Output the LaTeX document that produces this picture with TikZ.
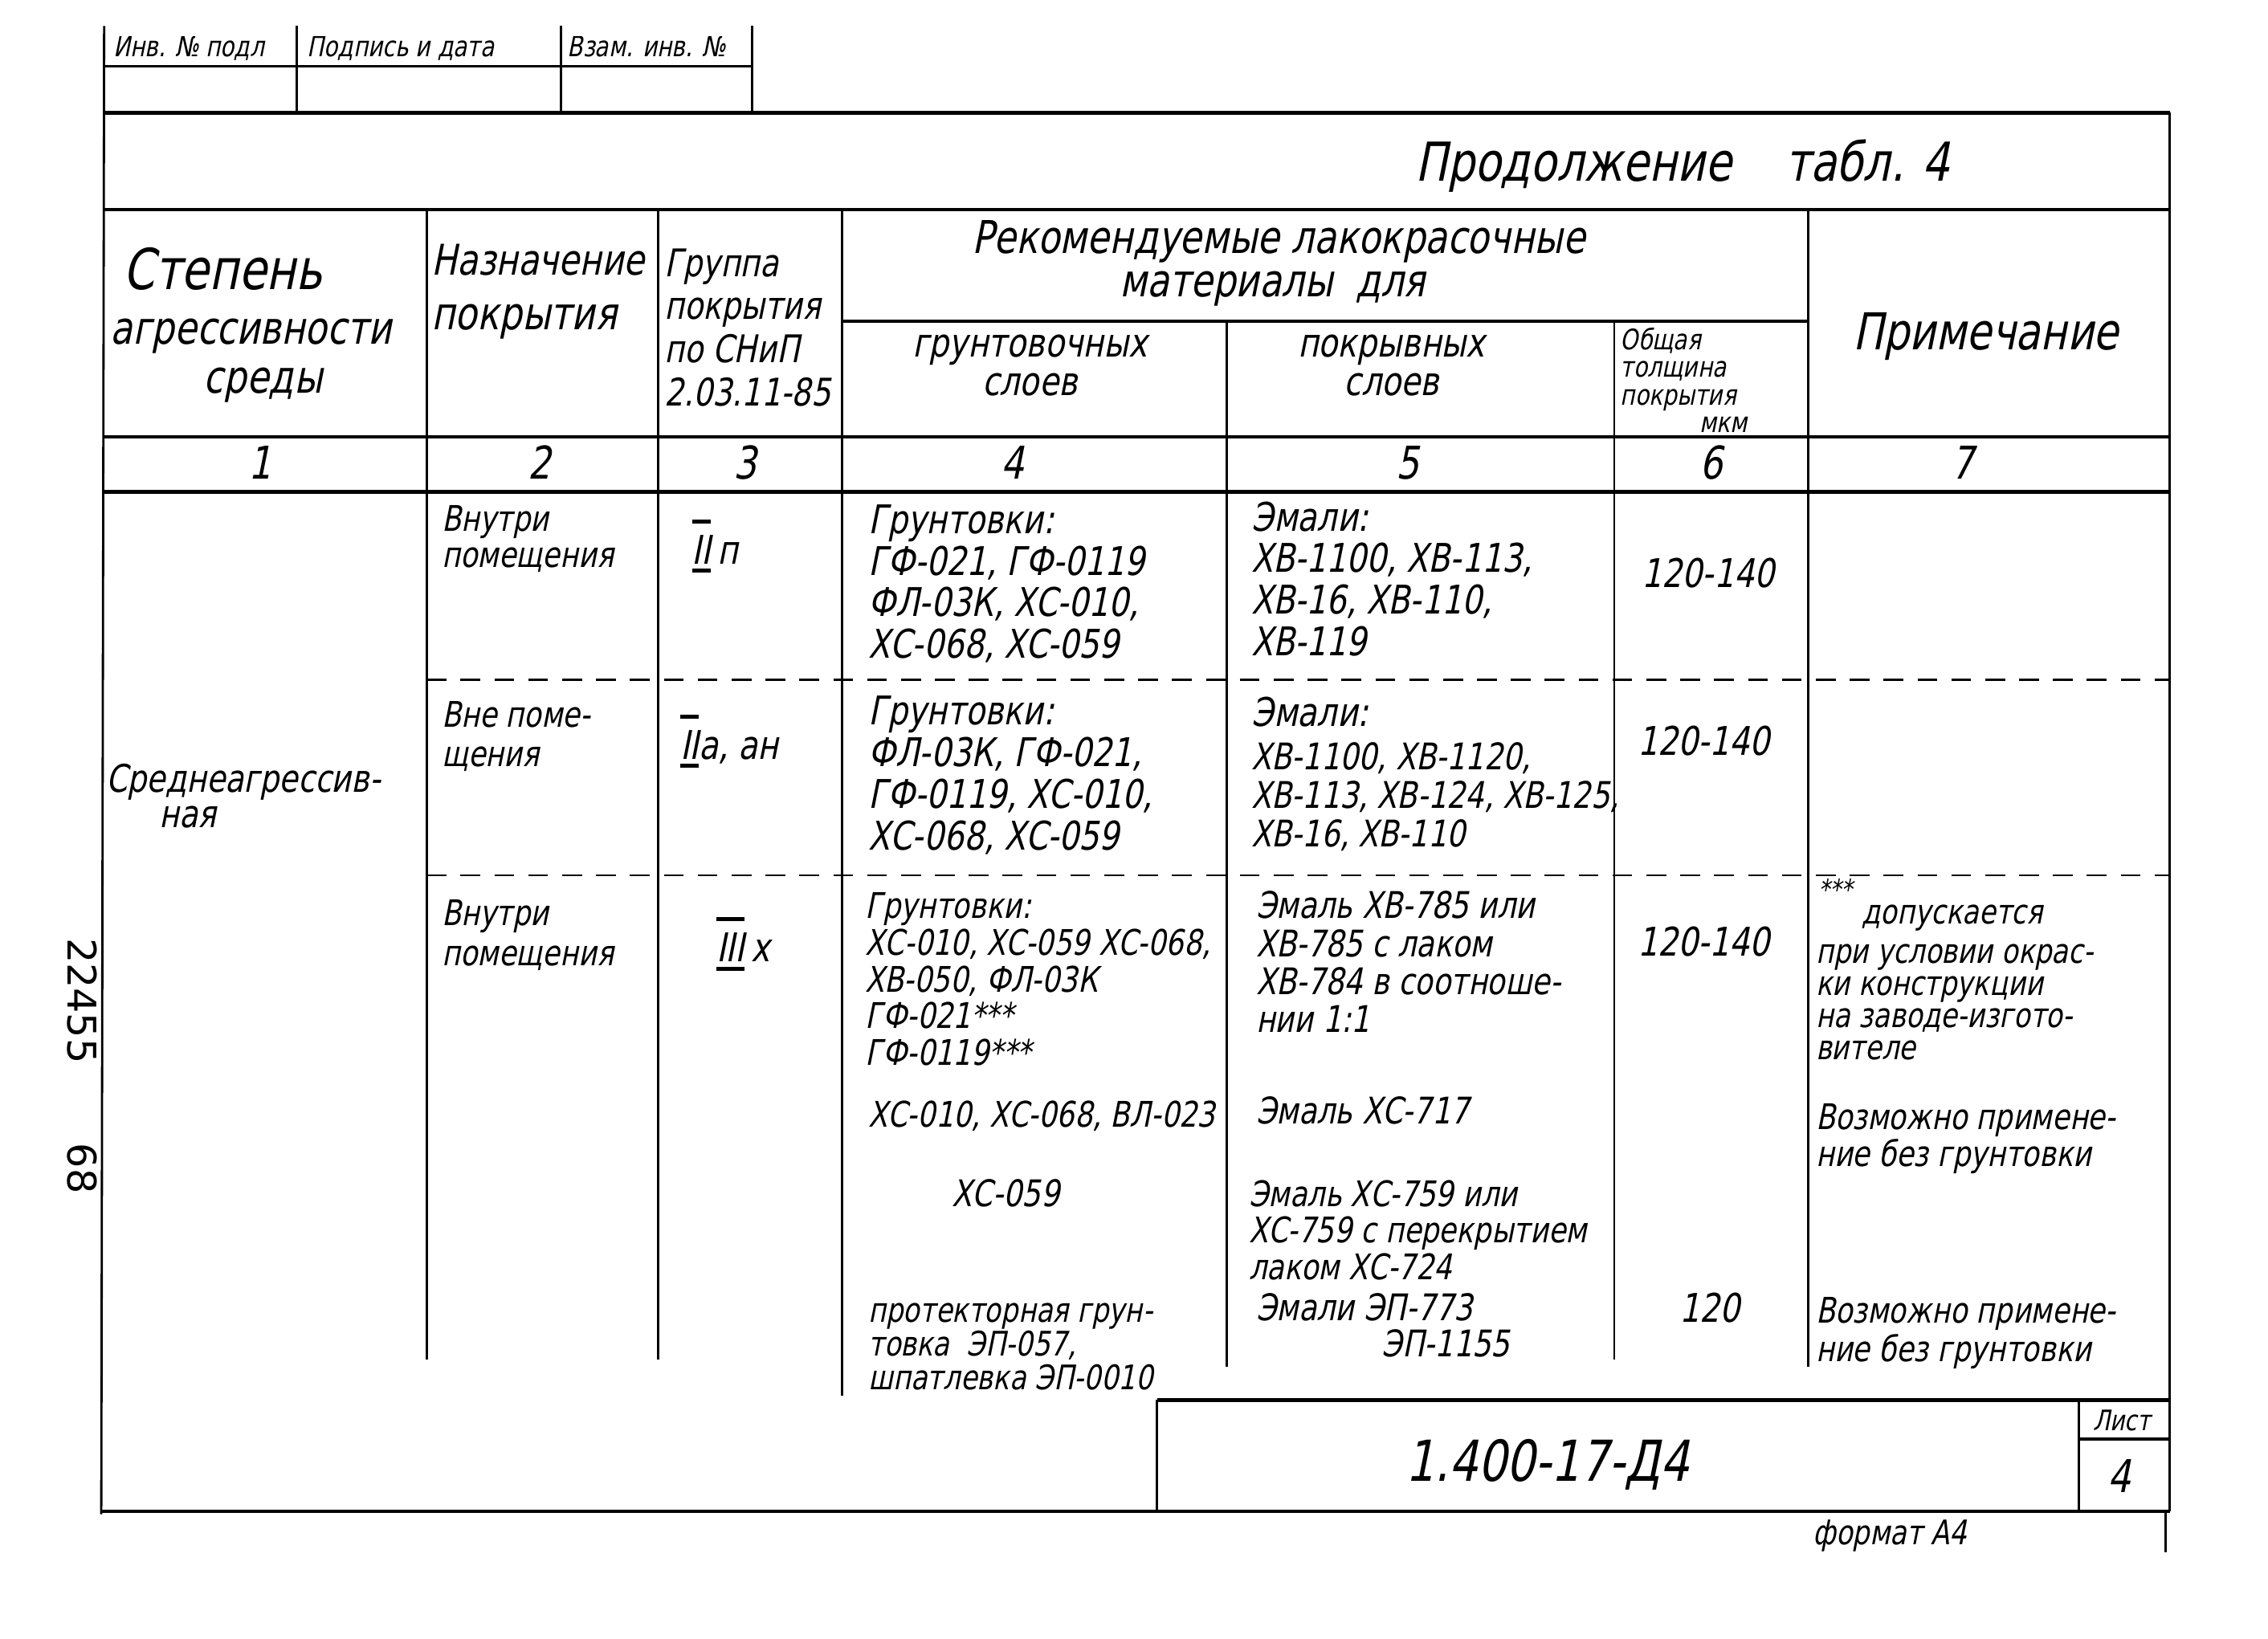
\documentclass[tikz,border=0pt]{standalone}
\usepackage{fontspec}
\setmainfont{DejaVu Sans}[FakeSlant=0.2,FakeStretch=0.8]
\newfontfamily\stampfont{DejaVu Sans}
\newcommand\ml[1]{\begin{tabular}[t]{@{}l@{}}#1\end{tabular}}
\newcommand\mc[1]{\begin{tabular}[t]{@{}c@{}}#1\end{tabular}}
\newcommand\fs[2]{\fontsize{#1}{#2}\selectfont}
\newcommand\romnum[1]{\setbox0=\hbox{#1}\rlap{\raisebox{\dimexpr\ht0+0.3em\relax}{\rule{\wd0}{0.1em}}}\rlap{\raisebox{-0.22em}{\rule{\wd0}{0.1em}}}\box0}
\tikzset{
  ln/.style={line width=0.8pt},
  thk/.style={line width=1.3pt},
  dsh/.style={line width=0.6pt, dash pattern=on 7pt off 5pt},
  tl/.style={inner sep=0pt, anchor=base west},
  tcn/.style={inner sep=0pt, anchor=base},
}
\begin{document}
\begin{tikzpicture}[x=0.01801cm,y=-0.01801cm]
\useasboundingbox (0,0) rectangle (1568,1133);
% ---------- frame and grid ----------
\draw[ln] (72,18) -- (70,1047);
\draw[ln] (205,18) -- (205,78);
\draw[ln] (388,18) -- (388,78);
\draw[ln] (520,18) -- (520,78);
\draw[ln] (72,46) -- (520,46);
\draw[thk] (72,78) -- (1500,78);
\draw[ln] (1500,78) -- (1500,1045);
\draw[ln] (1497,1045) -- (1497,1073);
\draw[thk] (72,145) -- (1500,145);
\draw[ln] (295,145) -- (295,940);
\draw[ln] (455,145) -- (455,940);
\draw[ln] (582,145) -- (582,965);
\draw[ln] (1250,145) -- (1250,945);
\draw[ln] (848,222) -- (848,945);
\draw[ln] (1116,222) -- (1116,940);
\draw[thk] (582,222) -- (1250,222);
\draw[thk] (72,302) -- (1500,302);
\draw[thk] (72,340) -- (1500,340);
\draw[dsh] (295,470) -- (1500,470);
\draw[dsh] (295,605) -- (1500,605);
\draw[thk] (800,968) -- (1500,968);
\draw[ln] (800,968) -- (800,1045);
\draw[ln] (1437,968) -- (1437,1045);
\draw[thk] (1437,995) -- (1500,995);
\draw[thk] (70,1045) -- (1500,1045);
% ---------- top small table ----------
\begin{scope}
\clip (60,25) rectangle (530,46);
\node[tl,font=\fs{10}{10}] (t1) at (78,39) {Инв. № подл};
\node[tl,font=\fs{10}{10}] (t2) at (212,39) {Подпись и дата};
\node[tl,font=\fs{10}{10}] (t3) at (392,39) {Взам. инв. №};
\end{scope}
\node[tl,font=\fs{19}{19}] (cont) at (978,125) {Продолжение\quad табл. 4};
% ---------- header ----------
\node[tl,font=\fs{20}{22}] (h1a) at (85,200) {Степень};
\node[tl,font=\fs{16}{18}] (h1b) at (76,238) {агрессивности};
\node[tcn,font=\fs{16}{18}] (h1c) at (182,272) {среды};
\node[tl,font=\fs{15}{16}] (h2a) at (298,190) {Назначение};
\node[tl,font=\fs{16}{16}] (h2b) at (298,228) {покрытия};
\node[tl,font=\fs{13.5}{15.3}] (h3) at (459,191) {\ml{Группа\\покрытия\\по СНиП\\2.03.11-85}};
\node[tcn,font=\fs{16}{16}] (h45a) at (884,175) {Рекомендуемые лакокрасочные};
\node[tcn,font=\fs{16}{16}] (h45b) at (880,205) {материалы\enspace для};
\node[tcn,font=\fs{14}{13.6}] (h4) at (712,247) {\mc{грунтовочных\\слоев}};
\node[tcn,font=\fs{14}{13.6}] (h5) at (962,247) {\mc{покрывных\\слоев}};
\node[tl,font=\fs{10}{9.7}] (h6) at (1120,242) {\ml{Общая\\толщина\\покрытия\\\hspace*{2.8em}мкм}};
\node[tcn,font=\fs{18}{18}] (h7) at (1373,242) {Примечание};
\node[tcn,font=\fs{16}{16}] (n1) at (180,331) {1};
\node[tcn,font=\fs{16}{16}] (n2) at (373,331) {2};
\node[tcn,font=\fs{16}{16}] (n3) at (515,331) {3};
\node[tcn,font=\fs{16}{16}] (n4) at (700,331) {4};
\node[tcn,font=\fs{16}{16}] (n5) at (973,331) {5};
\node[tcn,font=\fs{16}{16}] (n6) at (1183,331) {6};
\node[tcn,font=\fs{16}{16}] (n7) at (1357,331) {7};
% ---------- column 1 ----------
\node[tl,font=\fs{13.5}{14}] (b1a) at (73,548) {Среднеагрессив-};
\node[tl,font=\fs{13.5}{14}] (b1b) at (110,572) {ная};
% ---------- column 2 ----------
\node[tl,font=\fs{12.5}{12.8}] (b2a) at (305,367) {\ml{Внутри\\помещения}};
\node[tl,font=\fs{12.5}{13.8}] (b2b) at (305,503) {\ml{Вне поме-\\щения}};
\node[tl,font=\fs{12.5}{14.3}] (b2c) at (305,640) {\ml{Внутри\\помещения}};
% ---------- column 3 ----------
\node[tl,font=\fs{14}{14}] (b3a) at (478,390) {\romnum{II}\,п};
\node[tl,font=\fs{14}{14}] (b3b) at (470,525) {\romnum{II}а, ан};
\node[tl,font=\fs{14}{14}] (b3c) at (495,665) {\romnum{III}\,х};
% ---------- column 4 ----------
\node[tl,font=\fs{14}{14.3}] (b4a) at (600,369) {\ml{Грунтовки:\\ГФ-021, ГФ-0119\\ФЛ-03К, ХС-010,\\ХС-068, ХС-059}};
\node[tl,font=\fs{14}{14.6}] (b4b) at (600,501) {\ml{Грунтовки:\\ФЛ-03К, ГФ-021,\\ГФ-0119, ХС-010,\\ХС-068, ХС-059}};
\node[tl,font=\fs{12.5}{12.4}] (b4c) at (598,635) {\ml{Грунтовки:\\ХС-010, ХС-059 ХС-068,\\ХВ-050, ФЛ-03К\\ГФ-021***\\ГФ-0119***}};
\node[tl,font=\fs{12.5}{13}] (b4d) at (600,779) {ХС-010, ХС-068, ВЛ-023};
\node[tl,font=\fs{13}{13}] (b4e) at (658,834) {ХС-059};
\node[tl,font=\fs{12}{10.5}] (b4f) at (600,914) {\ml{протекторная грун-\\товка\enspace ЭП-057,\\шпатлевка ЭП-0010}};
% ---------- column 5 ----------
\node[tl,font=\fs{14}{14.5}] (b5a) at (865,367) {\ml{Эмали:\\ХВ-1100, ХВ-113,\\ХВ-16, ХВ-110,\\ХВ-119}};
\node[tl,font=\fs{14}{14}] (b5b) at (865,502) {Эмали:};
\node[tl,font=\fs{13}{13.3}] (b5c) at (865,532) {\ml{ХВ-1100, ХВ-1120,\\ХВ-113, ХВ-124, ХВ-125,\\ХВ-16, ХВ-110}};
\node[tl,font=\fs{13}{12.8}] (b5d) at (868,635) {\ml{Эмаль ХВ-785 или\\ХВ-785 с лаком\\ХВ-784 в соотноше-\\нии 1:1}};
\node[tl,font=\fs{13}{13}] (b5e) at (868,777) {Эмаль ХС-717};
\node[tl,font=\fs{12.5}{12.2}] (b5f) at (863,834) {\ml{Эмаль ХС-759 или\\ХС-759 с перекрытием\\лаком ХС-724}};
\node[tl,font=\fs{13}{13}] (b5g) at (868,913) {Эмали ЭП-773};
\node[tl,font=\fs{13}{13}] (b5h) at (955,938) {ЭП-1155};
% ---------- column 6 ----------
\node[tcn,font=\fs{14}{14}] (b6a) at (1181,406) {120-140};
\node[tcn,font=\fs{14}{14}] (b6b) at (1178,522) {120-140};
\node[tcn,font=\fs{14}{14}] (b6c) at (1178,661) {120-140};
\node[tcn,font=\fs{14}{14}] (b6d) at (1182,914) {120};
% ---------- column 7 ----------
\node[tl,font=\fs{10}{10}] (b7a) at (1257,622) {***};
\node[tl,font=\fs{12}{12}] (b7b) at (1287,639) {допускается};
\node[tl,font=\fs{12}{11.4}] (b7c) at (1255,666) {\ml{при условии окрас-\\ки конструкции\\на заводе-изгото-\\вителе}};
\node[tl,font=\fs{12.5}{11.2}] (b7d) at (1255,781) {\ml{Возможно примене-\\ние без грунтовки}};
\node[tl,font=\fs{12.5}{12.8}] (b7e) at (1255,915) {\ml{Возможно примене-\\ние без грунтовки}};
% ---------- stamp ----------
\node[tcn,font=\fs{20}{20}] (code) at (1070,1024) {1.400-17-Д4};
\node[tcn,font=\fs{10}{10}] (lst) at (1467,989) {Лист};
\node[tcn,font=\fs{16}{16}] (sheet) at (1465,1032) {4};
\node[tl,font=\fs{12}{12}] (fmt) at (1253,1068) {формат А4};
\node[inner sep=0pt,rotate=-90,font=\stampfont\fs{14}{14}] (inv1) at (57,692) {22455};
\node[inner sep=0pt,rotate=-90,font=\stampfont\fs{14}{14}] (inv2) at (57,808) {68};
\end{tikzpicture}
\end{document}
